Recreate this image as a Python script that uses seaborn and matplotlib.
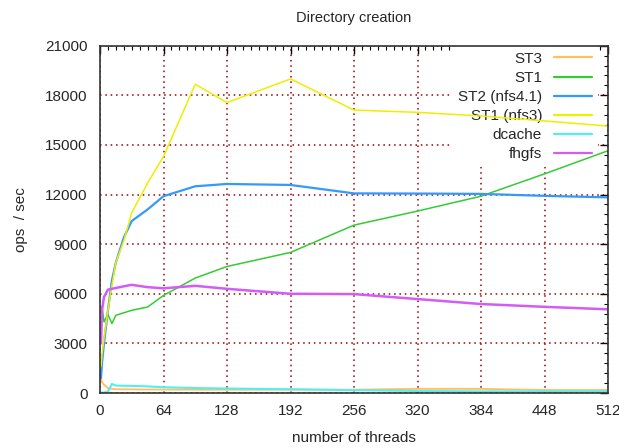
import matplotlib
matplotlib.use("Agg")
import matplotlib.pyplot as plt
from matplotlib.lines import Line2D
from matplotlib.ticker import MultipleLocator
import seaborn as sns
import pandas as pd

threads = [1, 2, 4, 8, 12, 16, 24, 32, 48, 64, 96, 128, 192, 256, 320, 384, 448, 512]

st3 = [900, 650, 500, 300, 250, 230, 220, 220, 210, 210, 200, 200, 200, 200, 250, 250, 180, 180]
st1 = [4900, 5250, 4300, 4750, 4200, 4700, 4850, 5000, 5200, 5900, 6950, 7650, 8500, 10150, 11000, 11900, 13250, 14650]
st2_nfs41 = [900, 1800, 3000, 5000, 6800, 7900, 9400, 10400, 11100, 11900, 12500, 12640, 12580, 12070, 12060, 12040, 11920, 11830]
st1_nfs3 = [1600, 2300, 3300, 5000, 6500, 7900, 9200, 10900, 12700, 14300, 18670, 17560, 18990, 17110, 16970, 16750, 16450, 16140]
dcache = [30, 30, 30, 80, 550, 450, 440, 430, 400, 350, 300, 270, 230, 170, 120, 100, 100, 100]
fhgfs = [3000, 5000, 5800, 6250, 6300, 6350, 6450, 6540, 6400, 6330, 6480, 6300, 6000, 5980, 5680, 5380, 5210, 5060]

series_names = ["ST3", "ST1", "ST2 (nfs4.1)", "ST1 (nfs3)", "dcache", "fhgfs"]
series_values = [st3, st1, st2_nfs41, st1_nfs3, dcache, fhgfs]
colors = ["#ffbf5f", "#33cc33", "#3399ff", "#eeee00", "#55eeee", "#d25cf5"]
widths = [1.3, 1.1, 1.6, 1.1, 1.5, 1.8]

x_ticks = [0, 64, 128, 192, 256, 320, 384, 448, 512]
y_ticks = [0, 3000, 6000, 9000, 12000, 15000, 18000, 21000]

rows = []
for name, vals in zip(series_names, series_values):
    for t, v in zip(threads, vals):
        rows.append({"threads": t, "ops": v, "series": name})
df = pd.DataFrame(rows)

sns.set_style("white")
plt.rcParams["font.family"] = ["Liberation Sans", "DejaVu Sans"]

fig = plt.figure(figsize=(6.19, 4.48), dpi=100)
ax = fig.add_axes([100 / 619, 1 - 393 / 448, 508 / 619, (393 - 45.7) / 448])

for name, c, w in zip(series_names, colors, widths):
    sns.lineplot(data=df[df["series"] == name], x="threads", y="ops", color=c,
                 linewidth=w, ax=ax, legend=False, zorder=3)

ax.set_xlim(0, 512)
ax.set_ylim(0, 21000)
ax.set_xticks(x_ticks)
ax.set_yticks(y_ticks)
ax.set_xticklabels([str(t) for t in x_ticks])
ax.set_yticklabels([str(t) for t in y_ticks])
ax.xaxis.set_minor_locator(MultipleLocator(8))
ax.yaxis.set_minor_locator(MultipleLocator(600))
ax.tick_params(axis="both", which="major", direction="in", length=6, width=1,
               top=True, right=True, labelsize=11, color="black", pad=9)
ax.tick_params(axis="x", which="major", pad=8)
ax.tick_params(axis="both", which="minor", direction="in", length=3, width=0.8,
               top=True, right=True, color="black")
ax.set_axisbelow(True)
ax.grid(True, which="major", color="#990000", linestyle=(0, (1, 2.5)), linewidth=1.1)
for s in ax.spines.values():
    s.set_color("#333333")
    s.set_linewidth(1.2)
    s.set_zorder(4)

ax.set_title("Directory creation", fontsize=10.5, pad=17)
ax.set_xlabel("number of threads", fontsize=11, labelpad=9)
ax.set_ylabel("ops  / sec", fontsize=11, labelpad=12)

handles = [Line2D([0], [0], color=c, linewidth=1.6) for c in colors]
leg = ax.legend(handles, series_names, loc="upper right", markerfirst=False,
                frameon=True, fontsize=11, handlelength=2.5, handletextpad=0.75,
                labelspacing=0.33, borderaxespad=0.0, bbox_to_anchor=(0.98, 1.0))
leg.get_frame().set_facecolor("white")
leg.get_frame().set_edgecolor("none")
leg.get_frame().set_alpha(1.0)
leg.set_zorder(2)
for t in leg.get_texts():
    t.set_ha("right")

fig.savefig("out.png", dpi=100)
